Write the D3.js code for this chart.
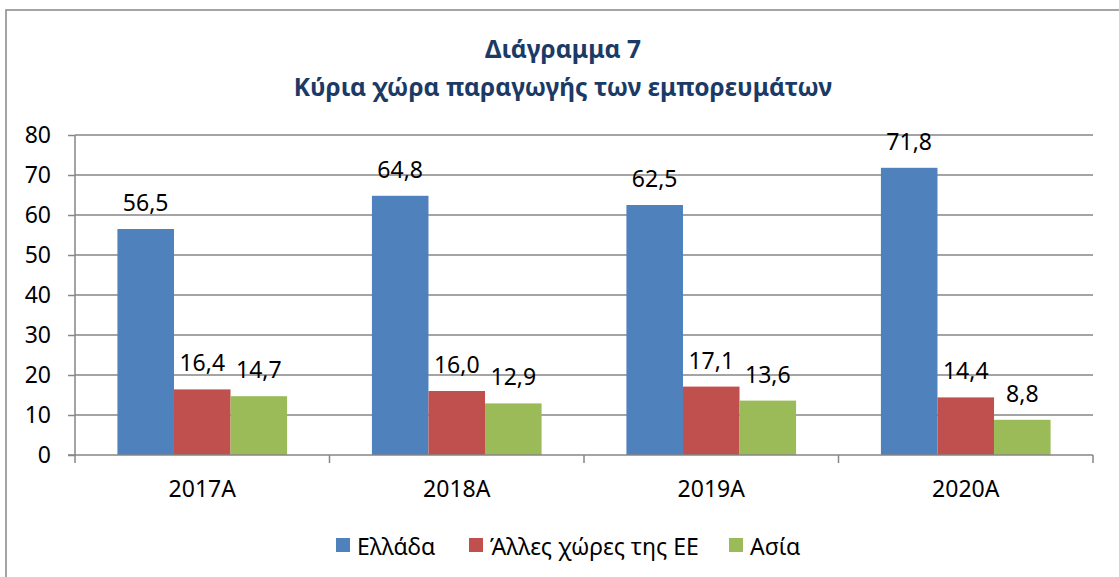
<!DOCTYPE html>
<html>
<head>
<meta charset="utf-8">
<script src="https://cdn.jsdelivr.net/npm/d3@7"></script>
<style>
  body { margin: 0; background: #fff; }
  svg text { font-family: "Noto Sans", "Open Sans", sans-serif; fill: #000; }
</style>
</head>
<body>
<div class="diagram"></div>
<script>
var width = 1119, height = 577;

// data
var categories = ['2017A', '2018A', '2019A', '2020A'];
var seriesNames = ['Ελλάδα', 'Άλλες χώρες της ΕΕ', 'Ασία'];
var greece = [56.5, 64.8, 62.5, 71.8];
var otherEU = [16.4, 16.0, 17.1, 14.4];
var asia = [14.7, 12.9, 13.6, 8.8];
var yTicks = [0, 10, 20, 30, 40, 50, 60, 70, 80];
var colors = ['#4f81bd', '#c0504d', '#9bbb59'];

var series = [greece, otherEU, asia];

var svg = d3.select('.diagram')
  .append('svg')
  .attr('width', width)
  .attr('height', height);

// outer frame
svg.append('rect')
  .attr('x', 6).attr('y', 10)
  .attr('width', 1130).attr('height', 600)
  .attr('fill', 'none')
  .attr('stroke', '#868686')
  .attr('stroke-width', 1.5);

// title
var title = svg.append('text')
  .attr('text-anchor', 'middle')
  .attr('font-weight', 'bold')
  .attr('font-size', 24.5)
  .style('fill', '#1b3a66');
title.append('tspan').attr('x', 563).attr('y', 58).text('Διάγραμμα 7');
title.append('tspan').attr('x', 563).attr('y', 96).text('Κύρια χώρα παραγωγής των εμπορευμάτων');

var plotLeft = 75, plotRight = 1093, plotTop = 135, plotBottom = 455;

var x0 = d3.scaleBand()
  .domain(categories)
  .range([plotLeft, plotRight])
  .padding(0);

// bars take 2/3 of each category (gap width 150%)
var x1 = d3.scaleBand()
  .domain(d3.range(seriesNames.length))
  .range([x0.bandwidth() / 6, x0.bandwidth() * 5 / 6])
  .padding(0);

var y = d3.scaleLinear()
  .domain([0, 80])
  .range([plotBottom, plotTop]);

// y axis
var yAxis = svg.append('g')
  .attr('transform', 'translate(' + plotLeft + ',0)')
  .call(d3.axisLeft(y).tickValues(yTicks).tickSize(7).tickPadding(17));
yAxis.select('.domain').remove();
yAxis.selectAll('line').attr('stroke', '#868686').attr('stroke-width', 1.5);
yAxis.selectAll('text').attr('font-size', 23).style('font-family', '"Noto Sans", sans-serif');

// gridlines
svg.append('g')
  .selectAll('line')
  .data(yTicks.filter(function(d) { return d > 0; }))
  .enter()
  .append('line')
  .attr('x1', plotLeft).attr('x2', plotRight)
  .attr('y1', function(d) { return y(d); })
  .attr('y2', function(d) { return y(d); })
  .attr('stroke', '#868686')
  .attr('stroke-width', 1.5);

// bars
var groups = svg.selectAll('.cat')
  .data(categories)
  .enter()
  .append('g')
  .attr('class', 'cat')
  .attr('transform', function(d) { return 'translate(' + x0(d) + ',0)'; });

function rows(d, i) {
  return series.map(function(s, j) { return { s: j, v: s[i] }; });
}

groups.selectAll('rect')
  .data(rows)
  .enter()
  .append('rect')
  .attr('x', function(d) { return x1(d.s); })
  .attr('width', x1.bandwidth())
  .attr('y', function(d) { return y(d.v); })
  .attr('height', function(d) { return plotBottom - y(d.v); })
  .attr('fill', function(d) { return colors[d.s]; });

groups.selectAll('text.lbl')
  .data(rows)
  .enter()
  .append('text')
  .attr('class', 'lbl')
  .attr('text-anchor', 'middle')
  .attr('font-size', 23)
  .attr('x', function(d) { return x1(d.s) + x1.bandwidth() / 2; })
  .attr('y', function(d) { return y(d.v) - 18; })
  .text(function(d) { return d.v.toFixed(1).replace('.', ','); });

// x axis
var xAxis = svg.append('g')
  .attr('transform', 'translate(0,' + plotBottom + ')')
  .call(d3.axisBottom(x0).tickSize(0).tickPadding(26));
xAxis.select('.domain').remove();
xAxis.selectAll('text').attr('font-size', 23).style('font-family', '"Noto Sans", sans-serif');

svg.append('line')
  .attr('x1', plotLeft - 7).attr('x2', plotRight)
  .attr('y1', plotBottom).attr('y2', plotBottom)
  .attr('stroke', '#868686').attr('stroke-width', 1.5);
svg.append('line')
  .attr('x1', plotLeft).attr('x2', plotLeft)
  .attr('y1', plotTop).attr('y2', plotBottom + 8)
  .attr('stroke', '#868686').attr('stroke-width', 1.5);
svg.selectAll('.xtick')
  .data(categories)
  .enter()
  .append('line')
  .attr('class', 'xtick')
  .attr('x1', function(d) { return x0(d) + x0.bandwidth(); })
  .attr('x2', function(d) { return x0(d) + x0.bandwidth(); })
  .attr('y1', plotBottom).attr('y2', plotBottom + 8)
  .attr('stroke', '#868686').attr('stroke-width', 1.5);

// legend
var legendX = [336, 469, 729];
var legend = svg.selectAll('.legend')
  .data(seriesNames)
  .enter()
  .append('g')
  .attr('class', 'legend')
  .attr('transform', function(d, i) { return 'translate(' + legendX[i] + ',538)'; });
legend.append('rect')
  .attr('width', 14).attr('height', 14)
  .attr('fill', function(d, i) { return colors[i]; });
legend.append('text')
  .attr('x', 21).attr('y', 17)
  .attr('font-size', 23)
  .text(function(d) { return d; });
</script>
</body>
</html>
